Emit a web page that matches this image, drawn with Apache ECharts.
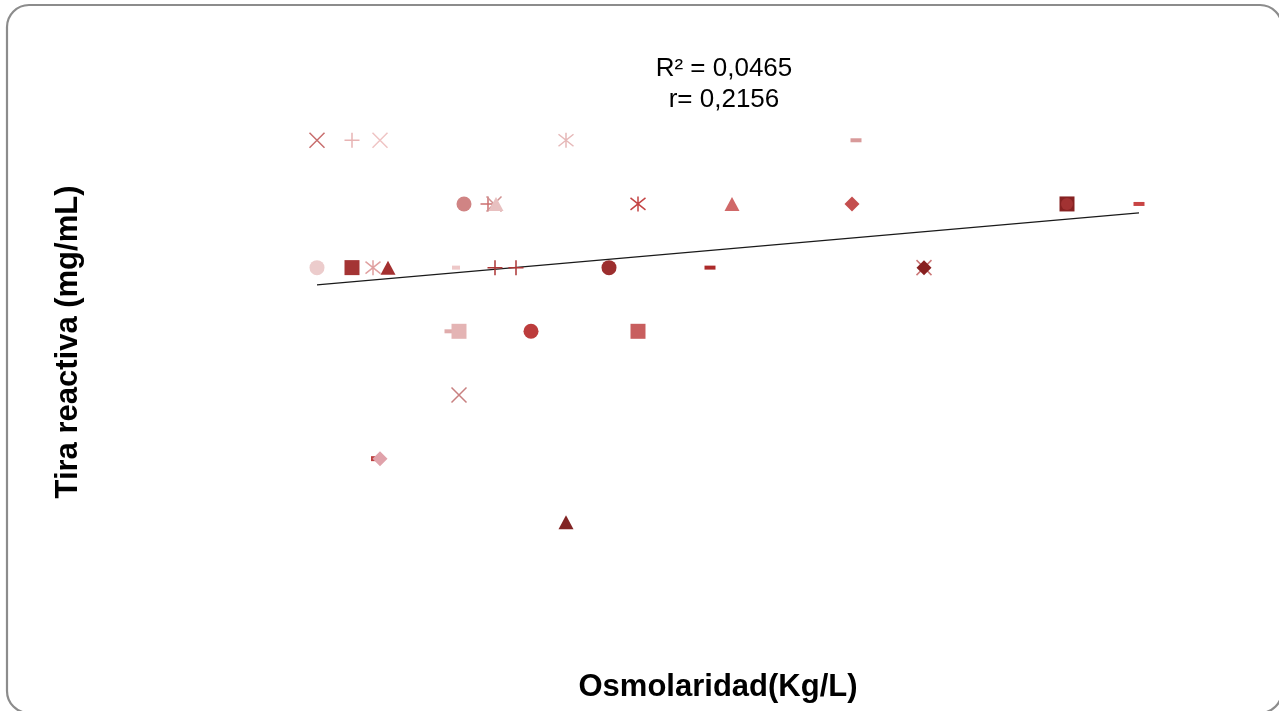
<!DOCTYPE html>
<html>
<head>
<meta charset="utf-8">
<script src="https://cdn.jsdelivr.net/npm/echarts@6/dist/echarts.min.js"></script>
<style>
html,body{margin:0;padding:0;background:#fff;}
#chart{width:1279px;height:711px;}
</style>
</head>
<body>
<div id="chart"></div>
<script>
// ---- data (arbitrary x units, y levels) ----
const osmolaridad = [
  5.7, 9.2, 12.0, 30.6, 59.6,
  20.4, 22.8, 23.4, 23.6, 37.8, 47.2, 59.2, 80.7, 80.7, 87.9,
  5.7, 9.2, 11.3, 12.8, 19.6, 23.5, 25.6, 34.9, 45.0, 66.4, 66.4,
  19.0, 19.9, 27.1, 37.8,
  19.9,
  11.4, 12.0,
  30.6
];
const tiraReactiva = [
  7, 7, 7, 7, 7,
  6, 6, 6, 6, 6, 6, 6, 6, 6, 6,
  5, 5, 5, 5, 5, 5, 5, 5, 5, 5, 5,
  4, 4, 4, 4,
  3,
  2, 2,
  1
];
const markerKind = [
  'x', 'plus', 'x', 'star', 'dash',
  'circle', 'plus', 'x', 'triangle', 'star', 'triangle', 'diamond', 'rect', 'circle', 'dash',
  'circle', 'rect', 'star', 'triangle', 'dashS', 'plus', 'plus', 'circle', 'dash', 'x', 'diamond',
  'dash', 'rect', 'circle', 'rect',
  'x',
  'dashT', 'diamond',
  'triangle'
];
const markerColor = [
  '#c86e6e', '#e8b4b4', '#efc4c4', '#e6b8b8', '#d89a9a',
  '#d08484', '#cc7070', '#d09090', '#e8c0c0', '#c44444', '#d06868', '#c44e4e', '#862222', '#a23232', '#c84444',
  '#eccccc', '#a43434', '#e0a0a0', '#a43030', '#eec8c8', '#ac3636', '#ac3636', '#9c2e2e', '#ac2a2a', '#cc7878', '#882020',
  '#e0acac', '#e4b4b4', '#bc3c3c', '#c85e5e',
  '#c88080',
  '#bc4040', '#e0a2aa',
  '#822424'
];
// trend line endpoints
const trendX = [5.7, 87.9];
const trendY = [4.73, 5.86];

const texts = {
  r2: 'R² = 0,0465',
  r: 'r= 0,2156',
  xTitle: 'Osmolaridad(Kg/L)',
  yTitle: 'Tira reactiva (mg/mL)'
};

// ---- styles ----
const SYM = {
  x: {symbol: 'path://M0,0L10,10M10,0L0,10', size: 15, stroke: true},
  plus: {symbol: 'path://M5,0L5,10M0,5L10,5', size: 15, stroke: true},
  star: {symbol: 'path://M5,0L5,10M1,1L9,9M9,1L1,9', size: 15, stroke: true},
  circle: {symbol: 'circle', size: 15},
  rect: {symbol: 'rect', size: 15},
  triangle: {symbol: 'triangle', size: [15, 14]},
  diamond: {symbol: 'diamond', size: 15},
  dash: {symbol: 'rect', size: [11, 4]},
  dashS: {symbol: 'rect', size: [8, 4]},
  dashT: {symbol: 'rect', size: [6, 5]}
};

const points = osmolaridad.map((x, i) => {
  const s = SYM[markerKind[i]];
  const c = markerColor[i];
  return {
    value: [x, tiraReactiva[i]],
    symbol: s.symbol,
    symbolSize: s.size,
    itemStyle: s.stroke
      ? {color: 'rgba(0,0,0,0)', borderColor: c, borderWidth: 1.5, opacity: 1}
      : {color: c, borderWidth: 0, opacity: 1}
  };
});
// slightly smaller circle on top of the dark square
points[13].symbolSize = 12;

const chart = echarts.init(document.getElementById('chart'));
chart.setOption({
  backgroundColor: '#fff',
  animation: false,
  grid: {left: 260, right: 19, top: 76.6, bottom: 125},
  xAxis: {type: 'value', min: 0, max: 100, show: false},
  yAxis: {type: 'value', min: 0, max: 8, show: false},
  series: [
    {
      type: 'line',
      data: trendX.map((x, i) => [x, trendY[i]]),
      symbol: 'none',
      lineStyle: {color: '#1a1a1a', width: 1.3},
      z: 1,
      silent: true
    },
    {
      type: 'scatter',
      data: points,
      itemStyle: {opacity: 1},
      z: 2
    }
  ],
  graphic: [
    {
      type: 'rect',
      shape: {x: 7, y: 5, width: 1275, height: 708, r: 22},
      style: {fill: 'none', stroke: '#8c8c8c', lineWidth: 2.2},
      silent: true
    },
    {
      type: 'text', x: 724, y: 69,
      style: {text: texts.r2, font: '26px "Liberation Sans", Arial, sans-serif', fill: '#000', align: 'center', verticalAlign: 'middle'}
    },
    {
      type: 'text', x: 724, y: 100,
      style: {text: texts.r, font: '26px "Liberation Sans", Arial, sans-serif', fill: '#000', align: 'center', verticalAlign: 'middle'}
    },
    {
      type: 'text', x: 718, y: 687,
      style: {text: texts.xTitle, font: 'bold 31px "Liberation Sans", Arial, sans-serif', fill: '#000', align: 'center', verticalAlign: 'middle'}
    },
    {
      type: 'text', x: 68, y: 342, rotation: Math.PI / 2,
      style: {text: texts.yTitle, font: 'bold 31px "Liberation Sans", Arial, sans-serif', fill: '#000', align: 'center', verticalAlign: 'middle'}
    }
  ]
});
</script>
</body>
</html>
